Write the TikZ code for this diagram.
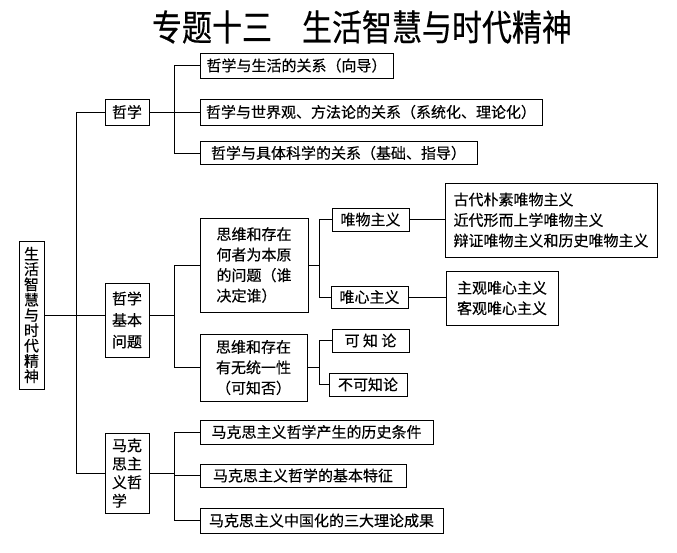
\documentclass[tikz,border=0pt]{standalone}
\usepackage{fontspec}
\usepackage{graphicx}
\newfontfamily\cjk[FakeBold=0.4]{Noto Sans CJK SC}
\tikzset{
  box/.style={draw, line width=1pt, inner sep=0pt, align=center,
    font=\cjk\fontsize{15}{20.5}\selectfont},
  link/.style={line width=1pt},
}
\begin{document}
\begin{tikzpicture}[x=1pt,y=-1pt]
\useasboundingbox (0,0) rectangle (677,552);
\node[font=\cjk\fontsize{30}{30}\selectfont] (title) at (362,27)
  {\scalebox{1}[1.2]{专题十三\hspace{1em}生活智慧与时代精神}};

\node[box, minimum width=25pt, minimum height=148pt, font=\cjk\fontsize{15}{15.3}\selectfont]
  (root) at (31.5,315) {生\\活\\智\\慧\\与\\时\\代\\精\\神};

\node[box, minimum width=44pt, minimum height=26pt] (zx) at (127,112) {哲学};
\node[box, minimum width=193pt, minimum height=25pt] (zx1) at (296.5,65.5) {哲学与生活的关系（向导）};
\node[box, minimum width=342pt, minimum height=26pt] (zx2) at (371,112) {哲学与世界观、方法论的关系（系统化、理论化）};
\node[box, minimum width=277pt, minimum height=23pt] (zx3) at (338.5,153) {哲学与具体科学的关系（基础、指导）};

\node[box, minimum width=44pt, minimum height=74pt, font=\cjk\fontsize{15}{21.5}\selectfont]
  (jb) at (127,320) {哲学\\基本\\问题};
\node[box, align=left, minimum width=108pt, minimum height=94pt] (q1) at (254,265)
  {思维和存在\\何者为本原\\的问题（谁\\决定谁）};
\node[box, minimum width=107pt, minimum height=67pt] (q2) at (253.5,367.5)
  {思维和存在\\有无统一性\\（可知否）};
\node[box, minimum width=77pt, minimum height=23pt] (wm) at (370.5,219.5) {唯物主义};
\node[box, minimum width=77pt, minimum height=22pt] (wx) at (369.5,297) {唯心主义};
\node[box, minimum width=77pt, minimum height=23pt] (kz) at (370.5,340.5) {可\ 知\ 论};
\node[box, minimum width=78pt, minimum height=23pt] (bk) at (368,384.5) {不可知论};
\node[box, align=left, minimum width=212pt, minimum height=74pt] (wmd) at (551,220)
  {古代朴素唯物主义\\近代形而上学唯物主义\\辩证唯物主义和历史唯物主义};
\node[box, align=left, minimum width=112pt, minimum height=54pt] (wxd) at (502,298)
  {主观唯心主义\\客观唯心主义};

\node[box, align=left, minimum width=44pt, minimum height=80pt, font=\cjk\fontsize{15}{18.5}\selectfont]
  (mk) at (127,473) {马克\\思主\\义哲\\学};
\node[box, minimum width=233pt, minimum height=24pt] (mk1) at (316.5,432) {马克思主义哲学产生的历史条件};
\node[box, minimum width=206pt, minimum height=23pt] (mk2) at (303,475.5) {马克思主义哲学的基本特征};
\node[box, minimum width=243pt, minimum height=25pt] (mk3) at (321.5,520.5) {马克思主义中国化的三大理论成果};

\coordinate (t) at (76,0);
\coordinate (b1) at (174,0);
\coordinate (b2) at (319.5,0);

\draw[link] (zx.west) -| (t |- mk.west) -- (mk.west);
\draw[link] (root.east) -- (root.east -| jb.west);
\draw[link] (zx.east) -- (zx.east -| b1);
\draw[link] (zx1.west) -| (b1 |- zx3.west) -- (zx3.west);
\draw[link] (zx2.west) -- (zx2.west -| b1);
\draw[link] (root.east -| jb.east) -- (root.east -| b1);
\draw[link] (q1.west) -| (b1 |- q2.west) -- (q2.west);
\draw[link] (mk.east) -- (mk.east -| b1);
\draw[link] (mk1.west) -| (b1 |- mk3.west) -- (mk3.west);
\draw[link] (mk2.west) -- (mk2.west -| b1);
\draw[link] (q1.east) -- (q1.east -| b2);
\draw[link] (wm.west) -| (b2 |- wx.west) -- (wx.west);
\draw[link] (q2.east) -- (q2.east -| b2);
\draw[link] (kz.west) -| (b2 |- bk.west) -- (bk.west);
\draw[link] (wm.east) -- (wm.east -| wmd.west);
\draw[link] (wx.east) -- (wx.east -| wxd.west);
\end{tikzpicture}
\end{document}
